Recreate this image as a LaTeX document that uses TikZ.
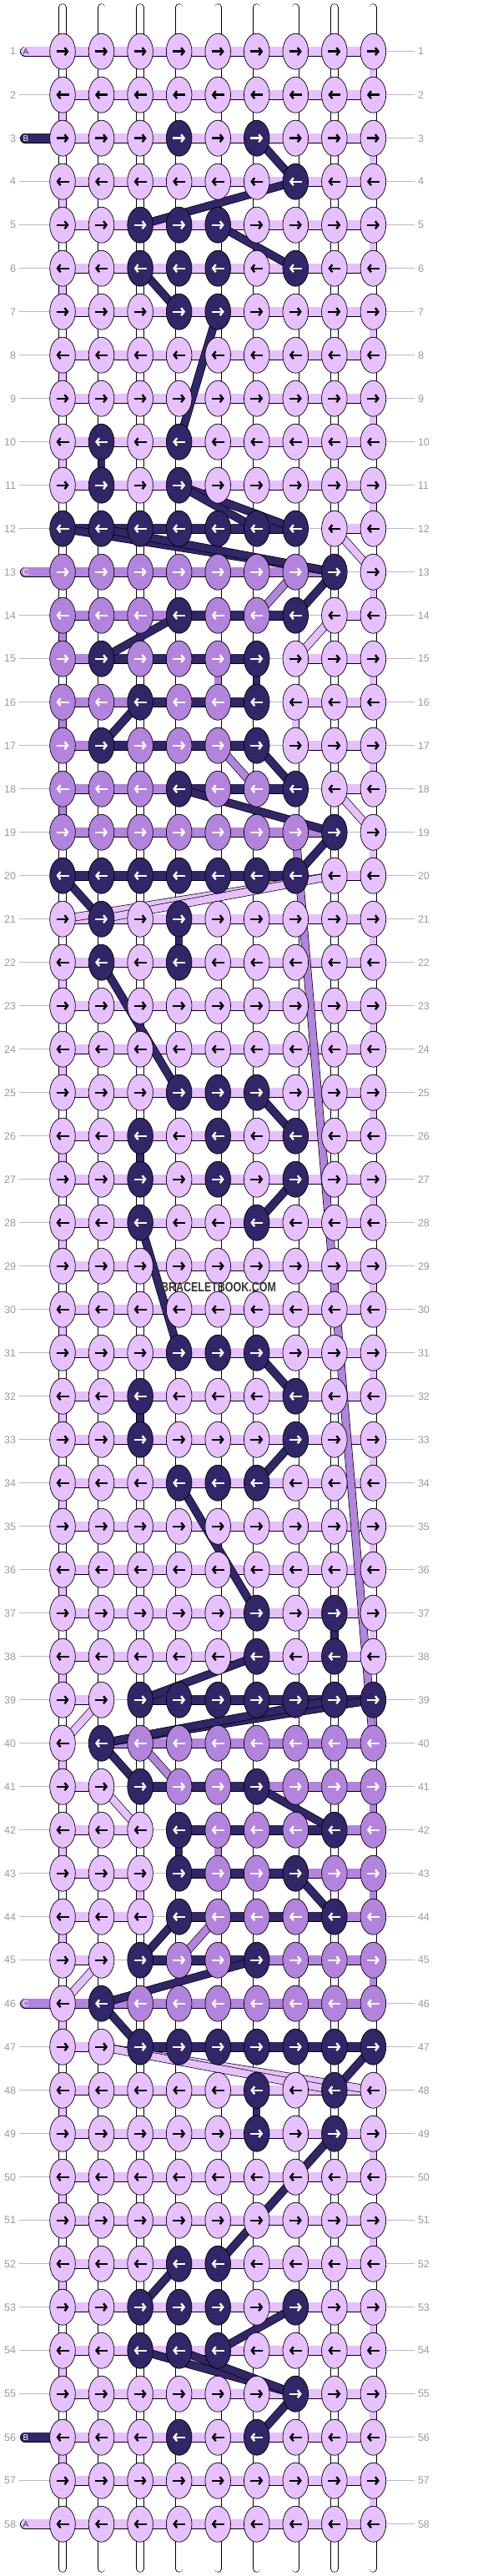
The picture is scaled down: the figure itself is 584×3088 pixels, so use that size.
\documentclass[tikz,border=0pt]{standalone}
\usepackage{fontspec}
\setmainfont{Liberation Sans}
\usetikzlibrary{arrows.meta,shapes.geometric}

\definecolor{kL}{HTML}{E6C0FF}
\definecolor{kD}{HTML}{312668}
\definecolor{kM}{HTML}{B284DE}
\colorlet{aL}{black}
\colorlet{aD}{white}
\colorlet{aM}{white}
\pgfdeclarelayer{bg}
\pgfsetlayers{bg,main}

\begin{document}
\begin{tikzpicture}[
		x=1pt, y=-1pt,
		knot/.style={ellipse, draw, line width=0.7pt, minimum width=30.6pt, minimum height=43pt, inner sep=0pt},
		arr/.style={line width=2.4pt, -{Straight Barb[length=3.5pt,width=9pt]}},
		bar/.style={double=#1, double distance=10.5pt, line width=0.7pt},
		thread/.style={double=#1, double distance=8pt, line width=0.7pt},
		diag/.style={double=#1, double distance=8.5pt, line width=0.7pt},
		hL/.style={bar=kL}, hD/.style={bar=kD}, hM/.style={bar=kM}, hN/.style={opacity=0},
		vW/.style={thread=white}, vL/.style={thread=kL}, vD/.style={thread=kD}, vM/.style={thread=kM},
		rowno/.style={text=black!40, font=\fontsize{12.5}{13}\selectfont, inner sep=0pt, outer sep=0pt},
		rowline/.style={draw=black!27, line width=0.8pt, shorten <=4pt, shorten >=4pt},
	]
	\useasboundingbox (0,0) rectangle (584,3088);

	% knots, arrows, row numbers and the bars of each row
	\foreach \r/\kk/\hh in {
		1/{L,L,L,L,L,L,L,L,L}/{L,L,L,L,L,L,L,L},
		2/{L,L,L,L,L,L,L,L,L}/{L,L,L,L,L,L,L,L},
		3/{L,L,L,D,L,D,L,L,L}/{L,L,L,L,L,L,L,L},
		4/{L,L,L,L,L,L,D,L,L}/{L,L,L,L,L,L,L,L},
		5/{L,L,D,D,D,L,L,L,L}/{L,L,L,L,L,L,L,L},
		6/{L,L,D,D,D,L,D,L,L}/{L,L,L,L,L,L,L,L},
		7/{L,L,L,D,D,L,L,L,L}/{L,L,L,L,L,L,L,L},
		8/{L,L,L,L,L,L,L,L,L}/{L,L,L,L,L,L,L,L},
		9/{L,L,L,L,L,L,L,L,L}/{L,L,L,L,L,L,L,L},
		10/{L,D,L,D,L,L,L,L,L}/{L,L,L,L,L,L,L,L},
		11/{L,D,L,D,L,L,L,L,L}/{L,L,L,L,L,L,L,L},
		12/{D,D,D,D,D,D,D,L,L}/{D,D,D,D,D,D,N,L},
		13/{M,M,M,M,M,M,M,D,L}/{M,M,M,M,M,M,M,N},
		14/{M,M,M,D,M,M,D,L,L}/{M,M,M,D,D,D,N,L},
		15/{M,D,M,M,M,D,L,L,L}/{M,D,D,D,D,N,L,L},
		16/{M,M,D,M,M,D,L,L,L}/{M,M,D,D,D,N,L,L},
		17/{M,D,M,M,M,D,L,L,L}/{M,D,D,D,D,N,L,L},
		18/{M,M,M,D,M,M,D,L,L}/{M,M,M,D,D,D,N,L},
		19/{M,M,M,M,M,M,M,D,L}/{M,M,M,M,M,M,M,N},
		20/{D,D,D,D,D,D,D,L,L}/{D,D,D,D,D,D,N,L},
		21/{L,D,L,D,L,L,L,L,L}/{L,L,L,L,L,L,L,L},
		22/{L,D,L,D,L,L,L,L,L}/{L,L,L,L,L,L,L,L},
		23/{L,L,L,L,L,L,L,L,L}/{L,L,L,L,L,L,L,L},
		24/{L,L,L,L,L,L,L,L,L}/{L,L,L,L,L,L,L,L},
		25/{L,L,L,D,D,D,L,L,L}/{L,L,L,L,L,L,L,L},
		26/{L,L,D,L,D,L,D,L,L}/{L,L,L,L,L,L,L,L},
		27/{L,L,D,L,D,L,D,L,L}/{L,L,L,L,L,L,L,L},
		28/{L,L,D,L,L,D,L,L,L}/{L,L,L,L,L,L,L,L},
		29/{L,L,L,L,L,L,L,L,L}/{L,L,L,L,L,L,L,L},
		30/{L,L,L,L,L,L,L,L,L}/{L,L,L,L,L,L,L,L},
		31/{L,L,L,D,D,D,L,L,L}/{L,L,L,L,L,L,L,L},
		32/{L,L,D,L,L,L,D,L,L}/{L,L,L,L,L,L,L,L},
		33/{L,L,D,L,L,L,D,L,L}/{L,L,L,L,L,L,L,L},
		34/{L,L,L,D,D,D,L,L,L}/{L,L,L,L,L,L,L,L},
		35/{L,L,L,L,L,L,L,L,L}/{L,L,L,L,L,L,L,L},
		36/{L,L,L,L,L,L,L,L,L}/{L,L,L,L,L,L,L,L},
		37/{L,L,L,L,L,D,L,D,L}/{L,L,L,L,L,L,L,L},
		38/{L,L,L,L,L,D,L,D,L}/{L,L,L,L,L,L,L,L},
		39/{L,L,D,D,D,D,D,D,D}/{L,N,D,D,D,D,D,D},
		40/{L,D,M,M,M,M,M,M,M}/{N,M,M,M,M,M,M,M},
		41/{L,L,D,M,M,D,M,M,M}/{L,N,D,D,D,M,M,M},
		42/{L,L,L,D,M,M,M,D,M}/{L,L,N,D,D,D,D,M},
		43/{L,L,L,D,M,M,D,M,M}/{L,L,N,D,D,D,M,M},
		44/{L,L,L,D,M,M,M,D,M}/{L,L,N,D,D,D,D,M},
		45/{L,L,D,M,M,D,M,M,M}/{L,N,D,D,D,M,M,M},
		46/{L,D,M,M,M,M,M,M,M}/{M,M,M,M,M,M,M,M},
		47/{L,L,D,D,D,D,D,D,D}/{L,N,D,D,D,D,D,D},
		48/{L,L,L,L,L,D,L,D,L}/{L,L,L,L,L,L,L,L},
		49/{L,L,L,L,L,D,L,D,L}/{L,L,L,L,L,L,L,L},
		50/{L,L,L,L,L,L,L,L,L}/{L,L,L,L,L,L,L,L},
		51/{L,L,L,L,L,L,L,L,L}/{L,L,L,L,L,L,L,L},
		52/{L,L,L,D,D,L,L,L,L}/{L,L,L,L,L,L,L,L},
		53/{L,L,D,D,D,L,D,L,L}/{L,L,L,L,L,L,L,L},
		54/{L,L,D,D,D,L,L,L,L}/{L,L,L,L,L,L,L,L},
		55/{L,L,L,L,L,L,D,L,L}/{L,L,L,L,L,L,L,L},
		56/{L,L,L,D,L,D,L,L,L}/{L,L,L,L,L,L,L,L},
		57/{L,L,L,L,L,L,L,L,L}/{L,L,L,L,L,L,L,L},
		58/{L,L,L,L,L,L,L,L,L}/{L,L,L,L,L,L,L,L}}{
		\ifodd\r \def\dd{1}\else\def\dd{-1}\fi
		\node[rowno, anchor=east] (ll-\r) at (19, {61.7+(\r-1)*52}) {\r};
		\node[rowno, anchor=west] (rl-\r) at (501, {61.7+(\r-1)*52}) {\r};
		\foreach \k [count=\c] in \kk {
			\node[knot, fill=k\k] (k-\r-\c) at ({75+(\c-1)*46.55}, {61.7+(\r-1)*52}) {};
			\draw[arr, draw=a\k] ([xshift={-7.5*\dd}]k-\r-\c.center) -- ([xshift={7.5*\dd}]k-\r-\c.center);
		}
		\begin{pgfonlayer}{bg}
			\draw[rowline] (ll-\r.east) -- (rl-\r.west);
			\foreach \h [count=\c] in \hh {
				\pgfmathtruncatemacro\n{\c+1}
				\draw[h\h] (k-\r-\c.center) -- (k-\r-\n.center);
			}
		\end{pgfonlayer}
	}

	\begin{pgfonlayer}{bg}
		% loose ends at top and bottom
		\foreach \c in {1,...,9} {
			\coordinate (top-\c) at ({75+(\c-1)*46.55}, 9);
			\coordinate (bot-\c) at ({75+(\c-1)*46.55}, 3079);
			\draw[vW, line cap=round] (top-\c) -- (k-1-\c.center);
			\draw[vW, line cap=round] (k-58-\c.center) -- (bot-\c);
		}

		% strings between rows
		\foreach \r/\vv in {
			1/{W,W,W,W,W,W,W,W,L}, 2/{L,W,W,W,W,W,W,W,W}, 3/{W,W,W,W,W,W,W,W,L},
			4/{L,W,W,W,W,W,W,W,W}, 5/{W,W,W,W,W,W,W,W,L}, 6/{L,W,W,W,W,W,W,W,W},
			7/{W,W,W,W,W,W,W,W,L}, 8/{L,W,W,W,W,W,W,W,W}, 9/{W,W,W,W,W,W,W,W,L},
			10/{L,D,W,W,W,W,W,W,W}, 11/{W,W,W,W,W,W,W,W,L}, 12/{W,W,W,W,W,W,W,W,W},
			13/{W,W,W,W,W,W,W,W,L}, 14/{M,W,W,W,W,W,W,W,W}, 15/{W,W,W,W,M,D,W,W,L},
			16/{M,W,W,W,W,W,L,W,W}, 17/{W,W,W,W,W,W,W,W,L}, 18/{M,W,W,W,W,W,W,W,W},
			19/{W,W,W,W,W,W,W,W,L}, 20/{W,W,W,W,W,W,W,W,W}, 21/{W,W,W,D,W,W,W,W,L},
			22/{L,W,W,W,W,W,W,W,W}, 23/{W,W,W,W,W,W,W,W,L}, 24/{L,W,W,W,W,W,W,W,W},
			25/{W,W,W,W,W,W,W,W,L}, 26/{L,W,D,W,W,W,W,W,W}, 27/{W,W,W,W,W,W,W,W,L},
			28/{L,W,W,W,W,W,W,W,W}, 29/{W,W,W,W,W,W,W,W,L}, 30/{L,W,W,W,W,W,W,W,W},
			31/{W,W,W,W,W,W,W,W,L}, 32/{L,W,D,W,W,W,W,W,W}, 33/{W,W,W,W,W,W,W,W,L},
			34/{L,W,W,W,W,W,W,W,W}, 35/{W,W,W,W,W,W,W,W,L}, 36/{L,W,W,W,W,W,W,W,W},
			37/{W,W,W,W,W,W,W,D,L}, 38/{L,W,W,W,W,W,W,W,W}, 39/{W,W,W,W,W,W,W,W,W},
			40/{L,W,W,W,W,W,W,W,W}, 41/{W,W,W,W,W,W,W,W,M}, 42/{L,W,W,D,M,W,W,W,W},
			43/{W,W,L,W,W,W,W,W,M}, 44/{L,W,W,W,W,W,W,W,W}, 45/{W,W,W,W,W,W,W,W,M},
			46/{L,W,W,W,W,W,W,W,W}, 47/{W,W,W,W,W,W,W,W,W}, 48/{L,W,W,W,W,D,W,W,W},
			49/{W,W,W,W,W,W,W,W,L}, 50/{L,W,W,W,W,W,W,W,W}, 51/{W,W,W,W,W,W,W,W,L},
			52/{L,W,W,W,W,W,W,W,W}, 53/{W,W,W,W,W,W,W,W,L}, 54/{L,W,W,W,W,W,W,W,W},
			55/{W,W,W,W,W,W,W,W,L}, 56/{L,W,W,W,W,W,W,W,W}, 57/{W,W,W,W,W,W,W,W,L}} {
			\pgfmathtruncatemacro\n{\r+1}
			\foreach \v [count=\c] in \vv
				\draw[v\v] (k-\r-\c.center) -- (k-\n-\c.center);
		}

		% hidden strings running behind the knots
		\draw[diag=kM] (k-19-7.center) -- (k-40-9.center);
		\foreach \s/\ra/\ca/\rb/\cb in {
			D/3/6/4/7, D/4/7/5/3, D/5/5/6/7, D/6/3/7/4, D/7/5/10/4,
			D/11/4/12/7, D/11/4/12/6, D/12/1/13/8, D/12/2/13/8, L/12/8/13/9,
			D/13/8/14/7, M/13/7/14/6, L/14/8/15/7, D/14/4/15/2, D/16/3/17/2,
			M/17/5/18/6, D/17/6/18/7, D/18/4/19/8, L/18/8/19/9, D/19/8/20/7,
			L/20/8/21/1, L/20/8/21/2, D/20/1/21/2, D/22/2/25/4, D/25/6/26/7,
			D/27/7/28/6, D/28/3/31/4, D/31/6/32/7, D/33/7/34/6, D/34/4/37/6,
			D/38/6/39/3, D/39/9/40/2, D/39/8/40/2, L/39/2/40/1, D/40/2/41/3,
			M/40/3/41/4, D/41/6/42/8, L/41/2/42/3, D/43/7/44/8, D/44/4/45/3,
			M/44/5/45/4, D/45/6/46/2, L/45/2/46/1, D/46/2/47/3, L/47/2/48/9,
			L/47/2/48/8, D/47/9/48/8, D/49/8/50/7, D/50/7/52/5, D/52/4/53/3,
			D/53/7/54/5, D/54/3/55/7, D/54/4/55/7, D/55/7/56/6}
			\draw[diag=k\s] (k-\ra-\ca.center) -- (k-\rb-\cb.center);

		% strings entering at the left
		\foreach \r/\s/\t/\tc in {1/L/A/kD, 3/D/B/white, 13/M/C/white, 46/M/C/white, 56/D/B/white, 58/L/A/kD} {
			\coordinate (s-\r) at (30, {61.7+(\r-1)*52});
			\draw[h\s, line cap=round] (s-\r) -- (k-\r-1.center);
			\node[text=\tc, font=\fontsize{10}{10}\selectfont, inner sep=0pt] (sl-\r) at (31, {61.7+(\r-1)*52}) {\t};
		}
	\end{pgfonlayer}

	\node[text=black!80, font=\bfseries\fontsize{16}{16}\selectfont, inner sep=0pt] (wm) at (262,1543) {\scalebox{0.78}[1]{BRACELETBOOK.COM}};
\end{tikzpicture}
\end{document}
